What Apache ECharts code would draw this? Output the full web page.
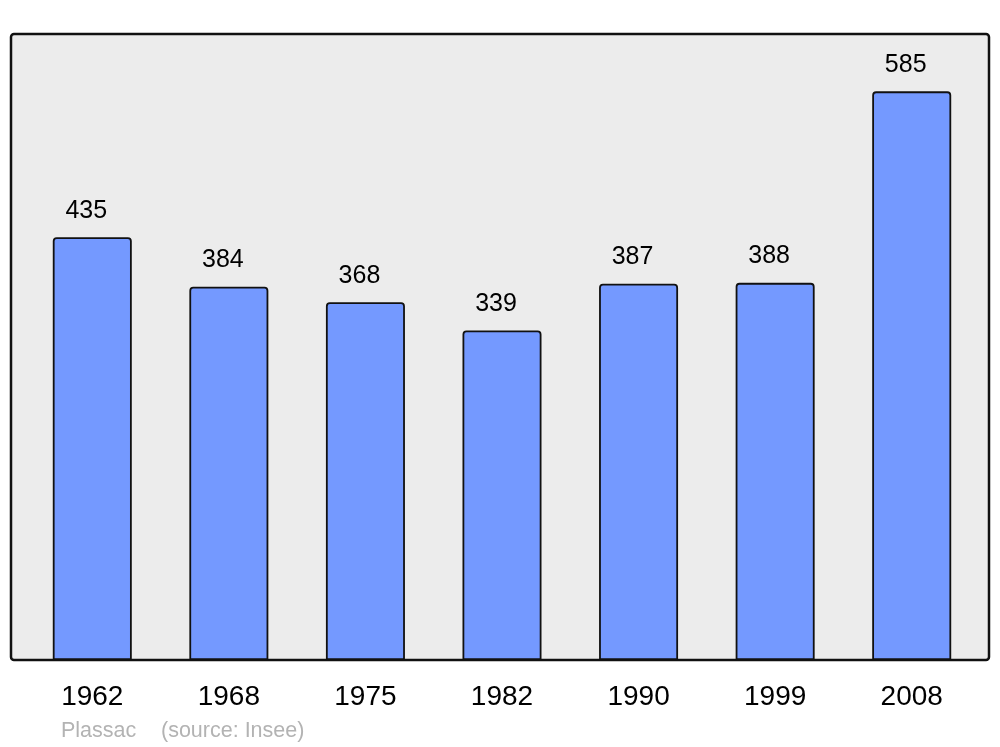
<!DOCTYPE html>
<html><head><meta charset="utf-8">
<script src="https://cdn.jsdelivr.net/npm/echarts@6/dist/echarts.min.js"></script>
<style>html,body{margin:0;padding:0;background:#fff}#c{width:1000px;height:747px}</style>
</head><body><div id="c"></div>
<script>
const years = ['1962','1968','1975','1982','1990','1999','2008'];
const population = [435, 384, 368, 339, 387, 388, 585];
const footerName = 'Plassac';
const footerSource = '(source: Insee)';

const chart = echarts.init(document.getElementById('c'), null, {renderer:'canvas'});
const F = {left: 11, right: 11, top: 34, bottom: 87};
const FONT = '"Liberation Sans", Arial, sans-serif';
chart.setOption({
  animation: false,
  backgroundColor: '#ffffff',
  graphic: [
    {type:'rect', z: -10, shape:{x: F.left, y: F.top, width: 1000-F.left-F.right, height: 747-F.top-F.bottom, r: 3},
     style:{fill:'#ececec', stroke:'#111111', lineWidth: 2.5}},
    {type:'text', left: 61, top: 720, style:{text: footerName, fill:'#b3b3b3', font:'21.5px ' + FONT}},
    {type:'text', left: 161, top: 720, style:{text: footerSource, fill:'#b3b3b3', font:'21.5px ' + FONT}}
  ],
  grid: {left: 24, right: 20, top: 34, bottom: 87, containLabel: false},
  xAxis: {
    type: 'category', data: years,
    axisLine: {show: false}, axisTick: {show: false},
    axisLabel: {color:'#000', fontSize: 28, fontFamily: FONT, margin: 23}
  },
  yAxis: {type:'value', min: 0, max: 644, show: false, splitLine: {show: false}},
  series: [{
    type: 'bar', data: population, barWidth: 79,
    itemStyle: {color: '#7499ff', borderColor: '#111111', borderWidth: 1.8, borderRadius: [3,3,0,0]},
    label: {show: true, position: 'top', distance: 14, offset: [-6, 0], color:'#000', fontSize: 25, fontFamily: FONT}
  }]
});
</script></body></html>
